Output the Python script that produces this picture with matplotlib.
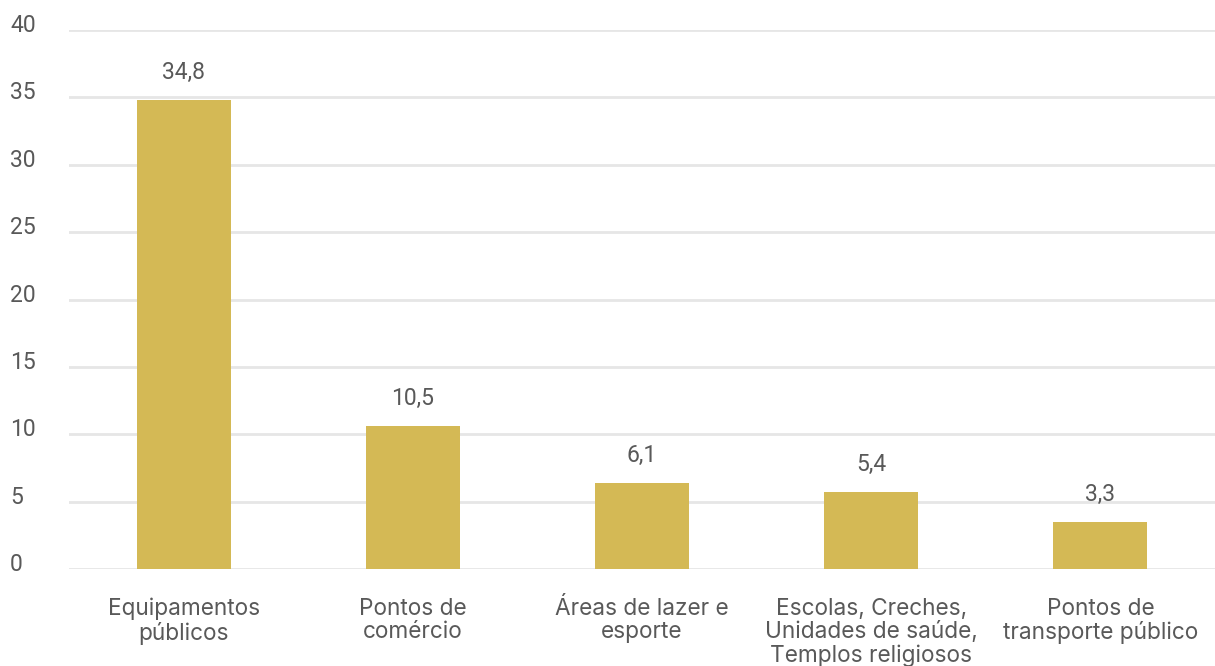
import numpy as np
import matplotlib.pyplot as plt
from matplotlib.transforms import offset_copy

categorias = ['Equipamentos\npúblicos', 'Pontos de\ncomércio', 'Áreas de lazer e\nesporte',
              'Escolas, Creches,\nUnidades de saúde,\nTemplos religiosos', 'Pontos de\ntransporte público']
valores = [34.8, 10.5, 6.1, 5.4, 3.3]          # rótulos mostrados
alturas = [34.8, 10.65, 6.35, 5.7, 3.5]        # altura das barras
yticks = [0, 5, 10, 15, 20, 25, 30, 35, 40]

cor_barra = '#D4B955'
cor_texto = '#595959'

plt.rcParams['font.family'] = ['Roboto', 'DejaVu Sans']

fig = plt.figure(figsize=(12.15, 6.66), dpi=100)
ax = fig.add_axes([0.0568, 0.1456, 0.9432, 0.8094])

x = np.arange(len(categorias))
ax.bar(x, alturas, width=0.41, color=cor_barra, zorder=3)

# rótulos de valor
for xi, h, v in zip(x, alturas, valores):
    ax.annotate(f"{v:.1f}".replace('.', ','), (xi, h), xytext=(0, 21), textcoords='offset pixels',
                ha='center', va='baseline', fontsize=16.5, color=cor_texto)

ax.set_xlim(-0.5, len(categorias) - 0.5)
ax.set_ylim(0, 40)
ax.set_yticks(yticks)
ax.yaxis.grid(True, color='#e6e6e6', linewidth=2, zorder=0)
ax.set_axisbelow(True)
ax.tick_params(axis='both', length=0)
ax.set_yticklabels([])

# rótulos do eixo y à esquerda, apoiados sobre as linhas
trans = offset_copy(ax.get_yaxis_transform(), fig=fig, x=0, y=-2, units='dots')
for t in yticks:
    ax.text(-59 / 1146, t, str(t), transform=trans, ha='left', va='baseline',
            fontsize=16.5, color=cor_texto, clip_on=False)

ax.set_xticks(x)
ax.set_xticklabels(categorias, fontsize=16.3, color=cor_texto, linespacing=1.1, family=['Inter', 'DejaVu Sans'])
ax.tick_params(axis='x', pad=20.5)

for s in ax.spines.values():
    s.set_visible(False)

fig.savefig('out.png', dpi=100)
